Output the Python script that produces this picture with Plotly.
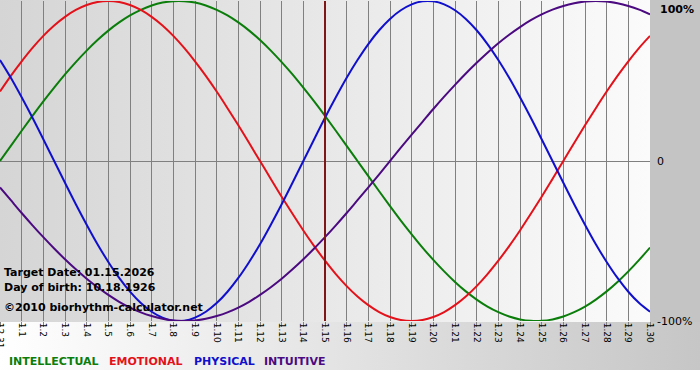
import base64
import plotly.graph_objects as go

# ---- data -------------------------------------------------------------
tick_days = list(range(31))  # 12.31 .. 1.30
day_labels = ["12.31"] + [f"1.{d}" for d in range(1, 31)]
sample_days = [i / 2 for i in range(61)]  # half-day readings
target_day = 15  # 1.15

intellectual = [0, 9.5, 18.9, 28.2, 37.2, 45.8, 54.1, 61.8, 69.0, 75.6, 81.5, 86.6, 91.0, 94.5,
                97.2, 99.0, 99.9, 99.9, 99.0, 97.2, 94.5, 91.0, 86.6, 81.5, 75.6, 69.0, 61.8,
                54.1, 45.8, 37.2, 28.2, 18.9, 9.5, 0, -9.5, -18.9, -28.2, -37.2, -45.8, -54.1,
                -61.8, -69.0, -75.6, -81.5, -86.6, -91.0, -94.5, -97.2, -99.0, -99.9, -99.9,
                -99.0, -97.2, -94.5, -91.0, -86.6, -81.5, -75.6, -69.0, -61.8, -54.1]
emotional = [43.4, 53.2, 62.3, 70.7, 78.2, 84.7, 90.1, 94.4, 97.5, 99.4, 100, 99.4, 97.5, 94.4,
             90.1, 84.7, 78.2, 70.7, 62.3, 53.2, 43.4, 33.0, 22.3, 11.2, 0, -11.2, -22.3, -33.0,
             -43.4, -53.2, -62.3, -70.7, -78.2, -84.7, -90.1, -94.4, -97.5, -99.4, -100, -99.4,
             -97.5, -94.4, -90.1, -84.7, -78.2, -70.7, -62.3, -53.2, -43.4, -33.0, -22.3, -11.2,
             0, 11.2, 22.3, 33.0, 43.4, 53.2, 62.3, 70.7, 78.2]
physical = [63.1, 52.0, 39.8, 27.0, 13.6, 0, -13.6, -27.0, -39.8, -52.0, -63.1, -73.1, -81.7,
            -88.8, -94.2, -97.9, -99.8, -99.8, -97.9, -94.2, -88.8, -81.7, -73.1, -63.1, -52.0,
            -39.8, -27.0, -13.6, 0, 13.6, 27.0, 39.8, 52.0, 63.1, 73.1, 81.7, 88.8, 94.2, 97.9,
            99.8, 99.8, 97.9, 94.2, 88.8, 81.7, 73.1, 63.1, 52.0, 39.8, 27.0, 13.6, 0, -13.6,
            -27.0, -39.8, -52.0, -63.1, -73.1, -81.7, -88.8, -94.2]
intuitive = [-16.5, -24.5, -32.5, -40.2, -47.6, -54.7, -61.4, -67.7, -73.6, -78.9, -83.7, -88.0,
             -91.6, -94.6, -96.9, -98.6, -99.7, -100, -99.7, -98.6, -96.9, -94.6, -91.6, -88.0,
             -83.7, -78.9, -73.6, -67.7, -61.4, -54.7, -47.6, -40.2, -32.5, -24.5, -16.5, -8.3,
             0, 8.3, 16.5, 24.5, 32.5, 40.2, 47.6, 54.7, 61.4, 67.7, 73.6, 78.9, 83.7, 88.0,
             91.6, 94.6, 96.9, 98.6, 99.7, 100, 99.7, 98.6, 96.9, 94.6, 91.6]

series_names = ["INTELLECTUAL", "EMOTIONAL", "PHYSICAL", "INTUITIVE"]
series_values = [intellectual, emotional, physical, intuitive]
series_colors = ["#0b7d0b", "#e3121a", "#1010cc", "#4b0a80"]

info_lines = ["Target Date: 01.15.2026", "Day of birth: 10.18.1926", "\u00a92010 biorhythm-calculator.net"]

# ---- layout geometry (pixels) -----------------------------------------
W, H = 700, 380
L, R, T, B = 0, 50, 1, 59
PW, PH = W - L - R, H - T - B  # 650 x 320

svg = f"""<svg xmlns='http://www.w3.org/2000/svg' width='{W}' height='{H}' viewBox='0 0 {W} {H}' preserveAspectRatio='none'>
<defs>
<linearGradient id='pg' x1='0' y1='0' x2='1' y2='0'>
<stop offset='0' stop-color='#d5d5d5'/><stop offset='1' stop-color='#fbfbfb'/></linearGradient>
<linearGradient id='bg' x1='0' y1='0' x2='1' y2='0'>
<stop offset='0' stop-color='#ffffff'/><stop offset='1' stop-color='#c6c6c6'/></linearGradient>
</defs>
<rect x='0' y='0' width='{W}' height='{H}' fill='#ffffff'/>
<rect x='0' y='322' width='{W}' height='48' fill='url(#bg)'/>
<rect x='{PW}' y='0' width='{R}' height='322' fill='#c4c4c4'/>
<rect x='0' y='0' width='{PW}' height='322' fill='url(#pg)'/>
</svg>"""
svg_uri = "data:image/svg+xml;base64," + base64.b64encode(svg.encode()).decode()

fig = go.Figure()
for name, vals, col in zip(series_names, series_values, series_colors):
    fig.add_trace(go.Scatter(x=sample_days, y=vals, mode="lines", name=name,
                             line=dict(color=col, width=2, shape="spline", smoothing=1.0),
                             hoverinfo="skip", showlegend=False, cliponaxis=False))

fig.add_vline(x=target_day, line=dict(color="#7e1616", width=2), layer="above")

fig.add_layout_image(dict(source=svg_uri, xref="paper", yref="paper",
                          x=-L / PW, y=1 + T / PH, sizex=W / PW, sizey=H / PH,
                          xanchor="left", yanchor="top", sizing="stretch", layer="below"))

bold = dict(family="DejaVu Sans", size=11, color="#000000")
for i, txt in enumerate(info_lines):
    ypx = [272, 287, 307][i]
    fig.add_annotation(text=f"<b>{txt}</b>", xref="paper", yref="paper",
                       x=2 / PW, y=1 - (ypx - T) / PH, xanchor="left", yanchor="middle",
                       showarrow=False, font=bold)

legend_x = [7, 107, 192, 262]
for name, col, lx in zip(series_names, series_colors, legend_x):
    fig.add_annotation(text=f"<b>{name}</b>", xref="paper", yref="paper",
                       x=lx / PW, y=1 - (361 - T) / PH, xanchor="left", yanchor="middle",
                       showarrow=False, font=dict(family="DejaVu Sans", size=11, color=col))

fig.add_annotation(text="<b>100%</b>", xref="paper", yref="paper",
                   x=1 + 8 / PW, y=1, xanchor="left", yanchor="top",
                   showarrow=False, font=bold)

fig.update_layout(
    width=W, height=H,
    margin=dict(l=L, r=R, t=T, b=B),
    paper_bgcolor="rgba(0,0,0,0)", plot_bgcolor="rgba(0,0,0,0)",
    xaxis=dict(range=[0, 30], tickvals=tick_days, ticktext=day_labels, tickangle=90,
               showgrid=True, gridcolor="#808080", gridwidth=1, zeroline=False,
               ticks="outside", ticklen=5, tickcolor="#808080", showline=False,
               tickfont=dict(family="DejaVu Sans", size=9, color="#000000"),
               ticklabelstandoff=-6, ticklabeloverflow="allow",
               automargin=False, fixedrange=True),
    yaxis=dict(range=[-100, 100], side="right", tickvals=[-100, 0], ticktext=["-100%", "0"],
               showgrid=False, zeroline=True, zerolinecolor="#808080", zerolinewidth=1,
               ticks="", showline=False, tickfont=bold, ticklabelstandoff=6,
               automargin=False, fixedrange=True),
)

fig.write_html("out.html", config={"displayModeBar": False},
               post_script="document.body.style.margin='0';")
